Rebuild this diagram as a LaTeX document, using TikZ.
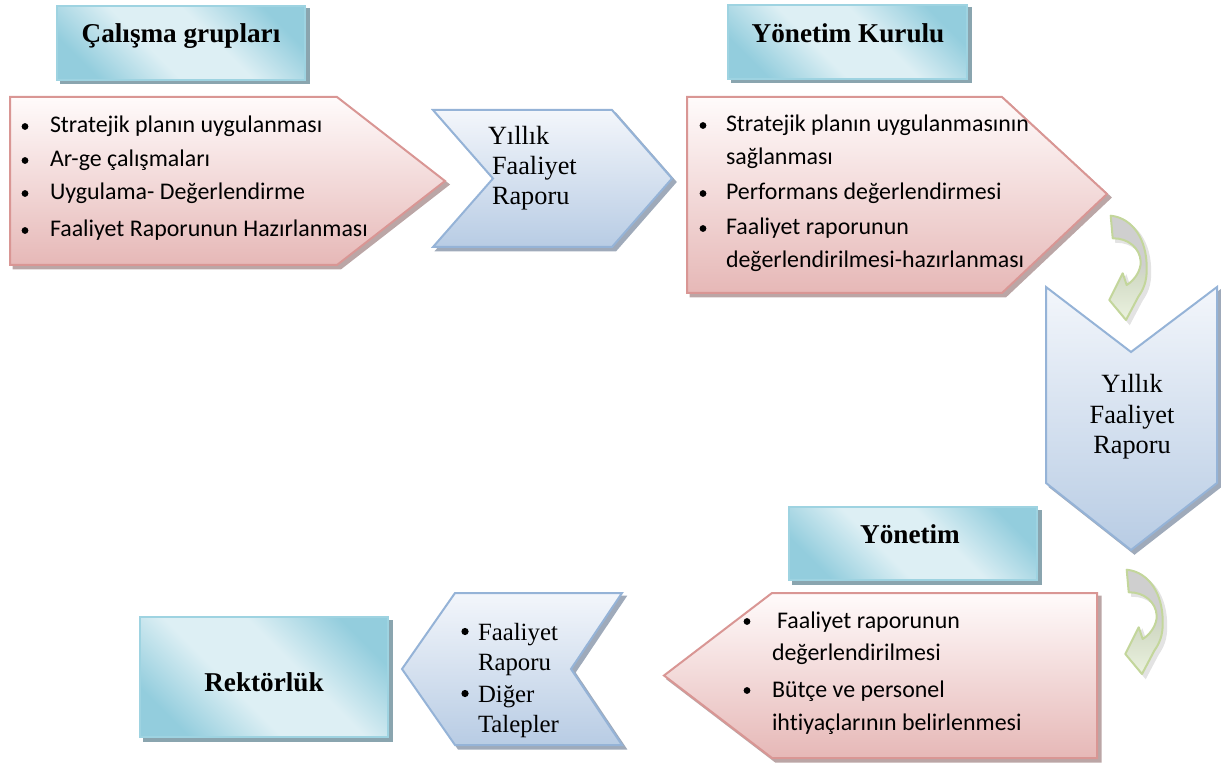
\documentclass[tikz,border=0pt]{standalone}
\usepackage{fontspec}
\setmainfont{Liberation Serif}
\newfontfamily\calfont[Ligatures={NoCommon,NoContextual}]{Carlito}
\definecolor{tealD}{HTML}{93CDDD}
\definecolor{tealL}{HTML}{DDEFF4}
\definecolor{tealB}{HTML}{9ED3E1}
\definecolor{tealS}{HTML}{8AA5AF}
\definecolor{redT}{HTML}{FFFBFB}
\definecolor{redB}{HTML}{E6B8B7}
\definecolor{redD}{HTML}{D99694}
\definecolor{redS}{HTML}{BBA6A6}
\definecolor{bluT}{HTML}{F3F6FB}
\definecolor{bluB}{HTML}{B8CCE4}
\definecolor{bluD}{HTML}{95B3D7}
\definecolor{bluS}{HTML}{9FAABA}
\definecolor{grnD}{HTML}{C3D69B}
\definecolor{grnL}{HTML}{E6EFD8}
\definecolor{arrG}{HTML}{CFCFCF}
\pgfdeclarehorizontalshading{tealsh}{100bp}{color(0bp)=(tealD); color(24bp)=(tealD); color(42bp)=(tealL); color(58bp)=(tealL); color(76bp)=(tealD); color(100bp)=(tealD)}
\pgfdeclareverticalshading{arrsh}{100bp}{color(0bp)=(grnL); color(25bp)=(grnL!80!white); color(45bp)=(grnL!92!black); color(52bp)=(arrG); color(100bp)=(arrG)}
\tikzset{
  shad/.style={preaction={draw=#1, fill=#1, line width=2pt, transform canvas={xshift=3.5pt, yshift=-3.5pt}}},
  tealbox/.style={shad=tealS, draw=tealB, line width=2.5pt, shading=tealsh, shading angle=45},
  redbox/.style={shad=redS, draw=redD, line width=2pt, top color=redT, bottom color=redB, line join=miter},
  blubox/.style={shad=bluS, draw=bluD, line width=2pt, top color=bluT, bottom color=bluB, line join=miter},
  arrowst/.style={shad=gray!22, draw=grnD, line width=2pt, shading=arrsh, line join=round},
  title/.style={font=\fontsize{27.2}{30}\selectfont\bfseries, anchor=base},
  body/.style={font=\calfont\fontsize{23.9}{28}\selectfont, anchor=base west},
  serif/.style={font=\fontsize{26.3}{30}\selectfont, anchor=base west},
  serifc/.style={font=\fontsize{26.3}{30}\selectfont, anchor=base},
  seriflist/.style={font=\fontsize{24.8}{28}\selectfont, anchor=base west},
  dot/.style={fill=black}
}
\begin{document}
\begin{tikzpicture}[x=1pt,y=-1pt, every node/.style={inner sep=0pt, outer sep=0pt}]
\useasboundingbox (0,0) rectangle (1221,767);

% ---------- title boxes ----------
\path[tealbox] (57,6) rectangle (305,80);
\node[title] (cg) at (181,43) {Çalışma grupları};
\path[tealbox] (728,5) rectangle (967,79);
\node[title] (yk) at (848,43) {Yönetim Kurulu};
\path[tealbox] (789,507) rectangle (1037,580);
\node[title] (yo) at (910,543) {Yönetim};
\path[tealbox] (140,617) rectangle (388,737);
\node[title] (rk) at (264,691) {Rektörlük};

% ---------- pentagon 1 ----------
\path[redbox] (10,97) -- (337,97) -- (445,181) -- (337,265) -- (10,265) -- cycle;
\foreach \yy in {133,167,200,237} \fill[dot] (25,\yy-6.5) circle[radius=3.4pt];
\node[body] (p1a) at (50,133) {Stratejik planın uygulanması};
\node[body] (p1b) at (50,167) {Ar-ge çalışmaları};
\node[body] (p1c) at (50,200) {Uygulama- Değerlendirme};
\node[body] (p1d) at (50,237) {Faaliyet Raporunun Hazırlanması};

% ---------- chevron 1 ----------
\path[blubox] (433,110) -- (612,110) -- (672,178.5) -- (612,247) -- (433,247) -- (493,178.5) -- cycle;
\node[serif] (c1a) at (488,145) {Yıllık};
\node[serif] (c1b) at (492,175) {Faaliyet};
\node[serif] (c1c) at (492,205) {Raporu};

% ---------- pentagon 2 ----------
\path[redbox] (687,97) -- (1002,97) -- (1107,194) -- (1002,293) -- (687,293) -- cycle;
\foreach \yy in {132,200,235} \fill[dot] (703,\yy-6.5) circle[radius=3.4pt];
\node[body] (p2a) at (726,132) {Stratejik planın uygulanmasının};
\node[body] (p2b) at (726,165) {sağlanması};
\node[body] (p2c) at (726,200) {Performans değerlendirmesi};
\node[body] (p2d) at (726,235) {Faaliyet raporunun};
\node[body] (p2e) at (726,268) {değerlendirilmesi-hazırlanması};

% ---------- curved arrows ----------
\foreach \sx/\sy in {0/0, 16/354} {
\begin{scope}[shift={(\sx,\sy)}]
\path[arrowst] (1110.7,215.7)
  .. controls (1133,218) and (1147,240) .. (1146.7,268.3)
  .. controls (1147,282) and (1143,290) .. (1138.3,296.7)
  -- (1126,320) -- (1109.3,300) -- (1122.7,273.3) -- (1126.7,285)
  .. controls (1135,280) and (1141,270) .. (1140.7,261.7)
  .. controls (1140,248) and (1128,238) .. (1112.7,238.3)
  -- cycle;
\end{scope}
}

% ---------- down chevron ----------
\path[blubox] (1046,287) -- (1131,352) -- (1217,287) -- (1217,483) -- (1131,550) -- (1046,483) -- cycle;
\node[serifc] (c2a) at (1132,392) {Yıllık};
\node[serifc] (c2b) at (1132,423) {Faaliyet};
\node[serifc] (c2c) at (1132,453) {Raporu};

% ---------- pentagon 3 ----------
\path[redbox] (664,675.5) -- (772,593) -- (1097,593) -- (1097,758) -- (772,758) -- cycle;
\foreach \yy in {628,697} \fill[dot] (747,\yy-6.5) circle[radius=3.4pt];
\node[body] (p3a) at (777,628) {Faaliyet raporunun};
\node[body] (p3b) at (772,660) {değerlendirilmesi};
\node[body] (p3c) at (772,697) {Bütçe ve personel};
\node[body] (p3d) at (772,730) {ihtiyaçlarının belirlenmesi};

% ---------- left chevron ----------
\path[blubox] (455,593) -- (622,593) -- (571,669) -- (622,745) -- (455,745) -- (402,669) -- cycle;
\foreach \yy in {640,702} \fill[dot] (465,\yy-8.5) circle[radius=3.6pt];
\node[seriflist] (c3a) at (478,640) {Faaliyet};
\node[seriflist] (c3b) at (478,670) {Raporu};
\node[seriflist] (c3c) at (478,702) {Diğer};
\node[seriflist] (c3d) at (478,732) {Talepler};
\end{tikzpicture}
\end{document}
